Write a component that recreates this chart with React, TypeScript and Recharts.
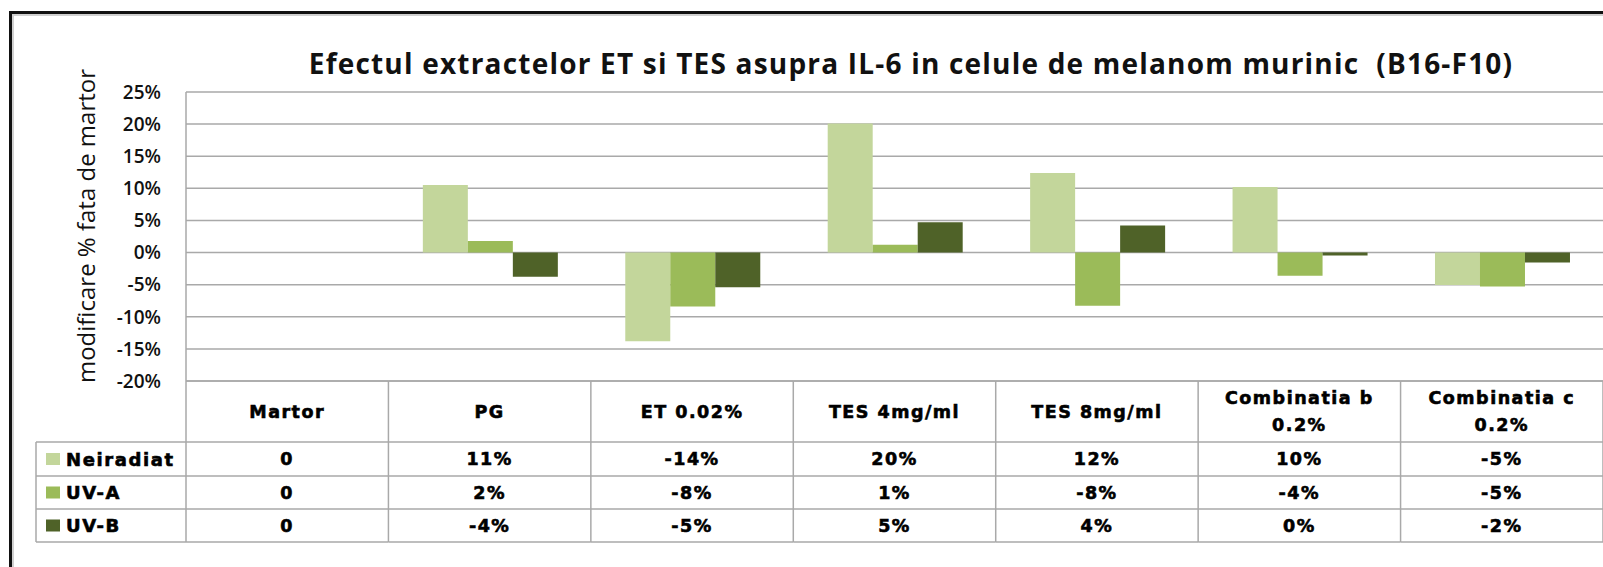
import { Bar, BarChart, CartesianGrid, XAxis, YAxis } from "recharts";

const WIDTH = 1603;
const HEIGHT = 567;
const PLOT_LEFT = 186;
const PLOT_TOP = 92;
const AXIS_H = 186;

const LIGHT = "#c3d69b";
const MID = "#9bbb59";
const DARK = "#4f6228";
const GRID = "#a9a9a9";
const TABLE_FONT = "'DejaVu Sans', sans-serif";

const categories = ["Martor", "PG", "ET 0.02%", "TES 4mg/ml", "TES 8mg/ml", "Combinatia b 0.2%", "Combinatia c 0.2%"];
const headerLines = [["Martor"], ["PG"], ["ET 0.02%"], ["TES 4mg/ml"], ["TES 8mg/ml"], ["Combinatia b", "0.2%"], ["Combinatia c", "0.2%"]];

const neiradiat = [0, 10.5, -13.8, 20.1, 12.4, 10.2, -5.05];
const uva = [0, 1.8, -8.4, 1.2, -8.3, -3.6, -5.3];
const uvb = [0, -3.75, -5.4, 4.7, 4.2, -0.45, -1.55];

const neiradiatLabels = ["0", "11%", "-14%", "20%", "12%", "10%", "-5%"];
const uvaLabels = ["0", "2%", "-8%", "1%", "-8%", "-4%", "-5%"];
const uvbLabels = ["0", "-4%", "-5%", "5%", "4%", "0%", "-2%"];

const yTicks = [-20, -15, -10, -5, 0, 5, 10, 15, 20, 25];

const series = [
  { key: "Neiradiat", color: LIGHT, labels: neiradiatLabels },
  { key: "UV-A", color: MID, labels: uvaLabels },
  { key: "UV-B", color: DARK, labels: uvbLabels },
];

const data = categories.map((c, i) => ({
  name: c,
  Neiradiat: neiradiat[i],
  "UV-A": uva[i],
  "UV-B": uvb[i],
}));

const BAND = (WIDTH - PLOT_LEFT) / categories.length;
// row boundaries of the data table, relative to the bottom of the plot
const ROWS = [0, 61, 95, 128, 161];
const LEGEND_LEFT = 36;

function TableTick(props: any) {
  const { x, y, payload } = props;
  const i = payload.index;
  const left = x - BAND / 2;
  const right = x + BAND / 2;
  const lines = headerLines[i];
  const txt = {
    fontFamily: TABLE_FONT,
    fontWeight: 700,
    fontSize: 17.5,
    letterSpacing: 1.5,
    fill: "#000",
    stroke: "#000",
    strokeWidth: 0.6,
  } as const;
  return (
    <g>
      <line x1={left} x2={right} y1={y + ROWS[0]} y2={y + ROWS[0]} stroke={GRID} strokeWidth={1.5} />
      <line x1={right} x2={right} y1={y} y2={y + ROWS[4]} stroke={GRID} strokeWidth={1.5} />
      {i === 0 && <line x1={left} x2={left} y1={y} y2={y + ROWS[4]} stroke={GRID} strokeWidth={1.5} />}
      {ROWS.slice(1).map((r) => (
        <line key={r} x1={left} x2={right} y1={y + r} y2={y + r} stroke={GRID} strokeWidth={1.5} />
      ))}
      {lines.map((l, k) => (
        <text
          key={k}
          x={x}
          y={y + ROWS[1] / 2 + (k - (lines.length - 1) / 2) * 27}
          textAnchor="middle"
          dominantBaseline="central"
          {...txt}
        >
          {l}
        </text>
      ))}
      {series.map((s, r) => (
        <text
          key={s.key}
          x={x}
          y={y + (ROWS[r + 1] + ROWS[r + 2]) / 2}
          textAnchor="middle"
          dominantBaseline="central"
          {...txt}
        >
          {s.labels[i]}
        </text>
      ))}
      {i === 0 && (
        <g>
          <line x1={LEGEND_LEFT} x2={LEGEND_LEFT} y1={y + ROWS[1]} y2={y + ROWS[4]} stroke={GRID} strokeWidth={1.5} />
          {ROWS.slice(1).map((r) => (
            <line key={r} x1={LEGEND_LEFT} x2={left} y1={y + r} y2={y + r} stroke={GRID} strokeWidth={1.5} />
          ))}
          {series.map((s, r) => {
            const cy = y + (ROWS[r + 1] + ROWS[r + 2]) / 2;
            return (
              <g key={s.key}>
                <rect x={46} y={cy - 6} width={14} height={12} fill={s.color} />
                <text x={66} y={cy} dominantBaseline="central" {...txt} fontSize={18} letterSpacing={1.6}>
                  {s.key}
                </text>
              </g>
            );
          })}
        </g>
      )}
    </g>
  );
}

export default function App() {
  return (
    <div style={{ position: "relative", width: WIDTH, height: HEIGHT, overflow: "hidden", background: "#fff" }}>
      <style>{"body{margin:0}"}</style>
      <div
        style={{
          position: "absolute",
          left: 9,
          top: 11,
          width: WIDTH,
          height: HEIGHT,
          borderLeft: "3px solid #111",
          borderTop: "3px solid #111",
          boxShadow: "inset 2px 2px 0 #d0d0d0",
        }}
      />
      <BarChart
        width={WIDTH}
        height={HEIGHT}
        data={data}
        margin={{ top: PLOT_TOP, right: 0, bottom: 0, left: 0 }}
        barCategoryGap="17%"
        barGap={0}
      >
        <CartesianGrid vertical={false} stroke={GRID} strokeWidth={1.5} />
        <XAxis
          dataKey="name"
          height={AXIS_H}
          interval={0}
          tickSize={0}
          tickMargin={0}
          axisLine={false}
          tick={<TableTick />}
        />
        <YAxis
          width={PLOT_LEFT}
          domain={[-20, 25]}
          ticks={yTicks}
          interval={0}
          tickSize={0}
          tickMargin={25}
          axisLine={{ stroke: GRID, strokeWidth: 1.5 }}
          tickFormatter={(v) => `${v}%`}
          tick={{ fontFamily: "'Open Sans', sans-serif", fontSize: 19, fontWeight: 600, fill: "#111" }}
        />
        {series.map((s) => (
          <Bar key={s.key} dataKey={s.key} fill={s.color} isAnimationActive={false} />
        ))}
      </BarChart>
      <svg
        width={WIDTH}
        height={HEIGHT}
        style={{ position: "absolute", left: 0, top: 0, pointerEvents: "none" }}
      >
        <text
          x={911}
          y={74}
          textAnchor="middle"
          xmlSpace="preserve"
          style={{ whiteSpace: "pre" }}
          fontFamily="'Open Sans', sans-serif"
          fontWeight={700}
          fontSize={28}
          letterSpacing={1.2}
          fill="#111"
        >
          Efectul extractelor ET si TES asupra IL-6 in celule de melanom murinic  (B16-F10)
        </text>
        <text
          transform="translate(95, 226) rotate(-90)"
          textAnchor="middle"
          fontFamily="'Open Sans', sans-serif"
          fontSize={24}
          fontWeight={500}
          fill="#111"
        >
          modificare % fata de martor
        </text>
      </svg>
    </div>
  );
}
